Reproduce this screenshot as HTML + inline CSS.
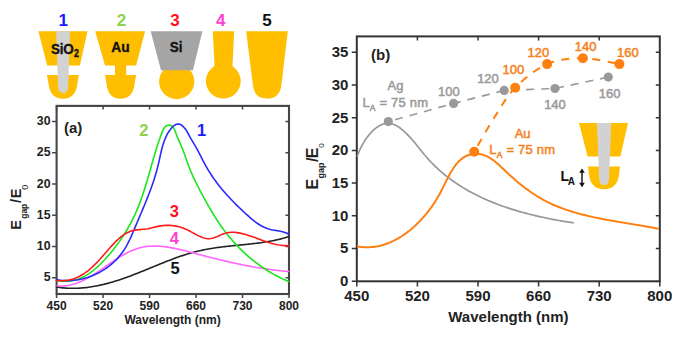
<!DOCTYPE html>
<html><head><meta charset="utf-8"><style>
html,body{margin:0;padding:0;background:#fff;}
svg{display:block;font-family:"Liberation Sans", sans-serif;}
</style></head><body>
<svg width="682" height="337" viewBox="0 0 682 337">
<rect width="682" height="337" fill="#fff"/>
<path d="M38.4,31.3 L87.5,31.3 L79.9,65.6 L47.2,65.6 Z" fill="#FFBE00"/>
<path d="M46.9,75 L78.9,75 L77.4,83 Q76.0,98.8 63,98.8 Q50.0,98.8 48.4,83 Z" fill="#FFBE00"/>
<path d="M56.2,31.3 L70.0,31.3 L68.2,87 Q67.5,93 63.1,93 Q58.7,93 58.0,87 Z" fill="#D2D2D2"/>
<path d="M95.2,31.3 L145.1,31.3 L136.1,65.6 L105.0,65.6 Z" fill="#FFBE00"/>
<rect x="115" y="64" width="11.2" height="12" fill="#FFBE00"/>
<path d="M105,75 L136.1,75 L134.7,83 Q133.3,98.7 120.5,98.7 Q107.7,98.7 106.4,83 Z" fill="#FFBE00"/>
<circle cx="176.7" cy="81.6" r="17.6" fill="#FFBE00"/>
<path d="M150.7,31.3 L202.4,31.3 L192.9,70.2 L161.0,70.2 Z" fill="#A5A5A5"/>
<path d="M212.8,31.3 L234.2,31.3 L232,75 L215,75 Z" fill="#FFBE00"/>
<circle cx="223.3" cy="81.2" r="17.4" fill="#FFBE00"/>
<path d="M246.2,31.3 L287.8,31.3 L281.4,85 Q279.8,98.6 267,98.6 Q254.2,98.6 252.9,85 Z" fill="#FFBE00"/>
<text x="63.2" y="26.0" font-size="17" font-weight="bold" fill="#1a1aff" color="#1a1aff" text-anchor="middle" >1</text>
<text x="121.6" y="26.0" font-size="17" font-weight="bold" fill="#8fd04e" color="#8fd04e" text-anchor="middle" >2</text>
<text x="175.0" y="26.0" font-size="17" font-weight="bold" fill="#ff1020" color="#ff1020" text-anchor="middle" >3</text>
<text x="220.8" y="26.0" font-size="17" font-weight="bold" fill="#ff40d0" color="#ff40d0" text-anchor="middle" >4</text>
<text x="267.0" y="26.0" font-size="17" font-weight="bold" fill="#111" color="#111" text-anchor="middle" >5</text>
<text transform="translate(50.9,53.6) scale(0.93,1.07)" font-size="14.5" font-weight="bold" fill="#111" stroke="#111" stroke-width="0.35" letter-spacing="-0.2">SiO<tspan font-size="9.5" dy="3.2" dx="0.4">2</tspan></text>
<text transform="translate(120.4,52.0) scale(0.95,1.07)" font-size="14.5" font-weight="bold" fill="#111" stroke="#111" stroke-width="0.35" text-anchor="middle">Au</text>
<text transform="translate(176.2,52.1) scale(0.95,1.07)" font-size="14.2" font-weight="bold" fill="#111" stroke="#111" stroke-width="0.35" text-anchor="middle">Si</text>
<rect x="56.6" y="105.9" width="232.4" height="188.1" fill="none" stroke="#454545" stroke-width="2.1"/>
<path d="M52.1,277.80 H56.6 M289.0,277.80 H285.5 M52.1,246.52 H56.6 M289.0,246.52 H285.5 M52.1,215.24 H56.6 M289.0,215.24 H285.5 M52.1,183.96 H56.6 M289.0,183.96 H285.5 M52.1,152.68 H56.6 M289.0,152.68 H285.5 M52.1,121.40 H56.6 M289.0,121.40 H285.5 M56.60,294.0 V298.0 M56.60,105.9 V109.4 M103.08,294.0 V298.0 M103.08,105.9 V109.4 M149.56,294.0 V298.0 M149.56,105.9 V109.4 M196.04,294.0 V298.0 M196.04,105.9 V109.4 M242.52,294.0 V298.0 M242.52,105.9 V109.4 M289.00,294.0 V298.0 M289.00,105.9 V109.4 " stroke="#454545" stroke-width="1.5" fill="none"/>
<text x="50.5" y="281.40000000000003" font-size="12.3" font-weight="bold" fill="#222" color="#222" text-anchor="end" >5</text>
<text x="50.5" y="250.12" font-size="12.3" font-weight="bold" fill="#222" color="#222" text-anchor="end" >10</text>
<text x="50.5" y="218.84" font-size="12.3" font-weight="bold" fill="#222" color="#222" text-anchor="end" >15</text>
<text x="50.5" y="187.56" font-size="12.3" font-weight="bold" fill="#222" color="#222" text-anchor="end" >20</text>
<text x="50.5" y="156.28" font-size="12.3" font-weight="bold" fill="#222" color="#222" text-anchor="end" >25</text>
<text x="50.5" y="125.0" font-size="12.3" font-weight="bold" fill="#222" color="#222" text-anchor="end" >30</text>
<text x="56.6" y="309.6" font-size="12" font-weight="bold" fill="#222" color="#222" text-anchor="middle" >450</text>
<text x="103.08" y="309.6" font-size="12" font-weight="bold" fill="#222" color="#222" text-anchor="middle" >520</text>
<text x="149.56" y="309.6" font-size="12" font-weight="bold" fill="#222" color="#222" text-anchor="middle" >590</text>
<text x="196.04" y="309.6" font-size="12" font-weight="bold" fill="#222" color="#222" text-anchor="middle" >660</text>
<text x="242.51999999999998" y="309.6" font-size="12" font-weight="bold" fill="#222" color="#222" text-anchor="middle" >730</text>
<text x="289.0" y="309.6" font-size="12" font-weight="bold" fill="#222" color="#222" text-anchor="middle" >800</text>
<text x="172.6" y="324.0" font-size="12" font-weight="bold" fill="#222" color="#222" text-anchor="middle" >Wavelength (nm)</text>
<text transform="translate(21.0,229.7) rotate(-90)" font-size="14.5" font-weight="bold" fill="#222">E</text>
<text transform="translate(27.3,218.8) rotate(-90)" font-size="8.5" font-weight="bold" fill="#222">gap</text>
<text transform="translate(21.0,203.0) rotate(-90)" font-size="14.5" font-weight="bold" fill="#222">/</text>
<text transform="translate(21.0,198.2) rotate(-90)" font-size="14.5" font-weight="bold" fill="#222">E</text>
<text transform="translate(28.0,189.7) rotate(-90)" font-size="9" font-weight="normal" fill="#222">0</text>
<text x="63.9" y="133.4" font-size="15" font-weight="bold" fill="#222" color="#222" text-anchor="start" >(a)</text>
<g fill="none" stroke-width="1.6" stroke-linejoin="round" stroke-linecap="round">
<path d="M56.62,287.07 L58.18,287.30 L59.74,287.50 L61.30,287.69 L62.84,287.84 L64.39,287.98 L65.93,288.09 L67.47,288.18 L69.00,288.24 L70.52,288.29 L72.05,288.31 L73.57,288.31 L75.08,288.29 L76.60,288.25 L78.10,288.19 L79.61,288.11 L81.11,288.01 L82.61,287.89 L84.10,287.76 L85.59,287.60 L87.07,287.43 L88.56,287.24 L90.04,287.03 L91.51,286.81 L92.99,286.57 L94.46,286.31 L95.93,286.04 L97.39,285.76 L98.85,285.46 L100.31,285.14 L101.77,284.81 L103.22,284.47 L104.67,284.12 L106.12,283.75 L107.56,283.37 L109.01,282.97 L110.45,282.57 L111.89,282.15 L113.32,281.73 L114.76,281.29 L116.19,280.84 L117.62,280.39 L119.05,279.92 L120.47,279.45 L121.90,278.96 L123.32,278.47 L124.74,277.97 L126.16,277.47 L127.58,276.95 L128.99,276.43 L130.41,275.91 L131.82,275.38 L133.23,274.84 L134.64,274.30 L136.05,273.75 L137.46,273.20 L138.87,272.64 L140.27,272.08 L141.68,271.52 L143.08,270.96 L144.49,270.39 L145.89,269.82 L147.29,269.25 L148.69,268.68 L150.10,268.10 L151.50,267.53 L152.90,266.96 L154.30,266.38 L155.70,265.81 L157.10,265.24 L158.49,264.67 L159.89,264.10 L161.29,263.54 L162.69,262.97 L164.09,262.41 L165.49,261.86 L166.89,261.31 L168.29,260.76 L169.70,260.22 L171.10,259.68 L172.50,259.15 L173.91,258.62 L175.32,258.10 L176.73,257.59 L178.14,257.09 L179.55,256.59 L180.97,256.11 L182.38,255.63 L183.80,255.16 L185.22,254.70 L186.65,254.25 L188.08,253.81 L189.51,253.39 L190.94,252.97 L192.38,252.57 L193.82,252.18 L195.26,251.80 L196.71,251.43 L198.16,251.08 L199.61,250.75 L201.07,250.42 L202.53,250.11 L204.00,249.81 L205.47,249.52 L206.94,249.25 L208.41,248.98 L209.89,248.72 L211.37,248.48 L212.85,248.24 L214.34,248.01 L215.82,247.80 L217.31,247.58 L218.80,247.38 L220.30,247.18 L221.79,247.00 L223.29,246.81 L224.78,246.63 L226.28,246.46 L227.78,246.30 L229.28,246.13 L230.79,245.97 L232.29,245.82 L233.79,245.66 L235.30,245.51 L236.80,245.37 L238.31,245.22 L239.81,245.07 L241.32,244.92 L242.82,244.77 L244.32,244.62 L245.83,244.47 L247.33,244.32 L248.84,244.16 L250.34,244.00 L251.84,243.83 L253.34,243.66 L254.84,243.49 L256.34,243.30 L257.83,243.11 L259.33,242.92 L260.82,242.72 L262.31,242.50 L263.80,242.28 L265.29,242.05 L266.78,241.81 L268.26,241.56 L269.74,241.30 L271.22,241.03 L272.70,240.74 L274.17,240.44 L275.64,240.13 L277.11,239.80 L278.57,239.46 L280.03,239.10 L281.49,238.73 L282.94,238.34 L284.39,237.93 L285.84,237.50 L287.28,237.06 L288.72,236.60" stroke="#222"/>
<path d="M57.07,285.77 L58.63,285.90 L60.17,285.96 L61.69,285.97 L63.21,285.93 L64.71,285.83 L66.19,285.68 L67.67,285.47 L69.13,285.23 L70.58,284.93 L72.02,284.59 L73.45,284.21 L74.87,283.78 L76.28,283.32 L77.68,282.82 L79.07,282.28 L80.46,281.70 L81.83,281.10 L83.20,280.46 L84.56,279.79 L85.91,279.10 L87.26,278.38 L88.60,277.64 L89.94,276.87 L91.27,276.08 L92.59,275.27 L93.91,274.45 L95.23,273.60 L96.54,272.75 L97.85,271.88 L99.16,271.00 L100.46,270.11 L101.76,269.22 L103.06,268.32 L104.36,267.41 L105.66,266.50 L106.96,265.60 L108.25,264.69 L109.55,263.78 L110.85,262.88 L112.15,261.99 L113.45,261.10 L114.76,260.23 L116.06,259.36 L117.37,258.51 L118.69,257.67 L120.00,256.85 L121.32,256.05 L122.65,255.27 L123.98,254.50 L125.31,253.77 L126.65,253.05 L128.00,252.36 L129.35,251.71 L130.71,251.08 L132.08,250.48 L133.45,249.91 L134.83,249.39 L136.22,248.89 L137.62,248.44 L139.03,248.03 L140.45,247.65 L141.88,247.32 L143.32,247.04 L144.77,246.79 L146.22,246.58 L147.69,246.41 L149.16,246.27 L150.64,246.18 L152.13,246.11 L153.63,246.08 L155.13,246.08 L156.63,246.11 L158.15,246.17 L159.67,246.26 L161.19,246.38 L162.72,246.52 L164.25,246.69 L165.79,246.88 L167.33,247.10 L168.88,247.33 L170.42,247.59 L171.97,247.86 L173.52,248.15 L175.08,248.46 L176.63,248.78 L178.19,249.12 L179.75,249.47 L181.30,249.83 L182.86,250.21 L184.42,250.59 L185.97,250.98 L187.53,251.37 L189.08,251.78 L190.63,252.18 L192.18,252.59 L193.73,253.01 L195.27,253.42 L196.81,253.83 L198.35,254.24 L199.88,254.65 L201.41,255.06 L202.93,255.46 L204.45,255.86 L205.97,256.26 L207.49,256.65 L209.00,257.05 L210.50,257.43 L212.01,257.82 L213.51,258.20 L215.01,258.57 L216.51,258.95 L218.00,259.31 L219.49,259.68 L220.98,260.04 L222.47,260.40 L223.96,260.75 L225.45,261.10 L226.93,261.45 L228.42,261.79 L229.90,262.13 L231.38,262.46 L232.86,262.79 L234.35,263.12 L235.83,263.44 L237.31,263.76 L238.79,264.07 L240.27,264.38 L241.75,264.68 L243.24,264.98 L244.72,265.27 L246.21,265.56 L247.69,265.85 L249.18,266.13 L250.67,266.40 L252.16,266.67 L253.65,266.94 L255.14,267.20 L256.64,267.45 L258.14,267.70 L259.64,267.95 L261.15,268.19 L262.65,268.42 L264.16,268.65 L265.68,268.87 L267.19,269.09 L268.71,269.30 L270.24,269.51 L271.76,269.71 L273.30,269.91 L274.83,270.10 L276.37,270.28 L277.92,270.46 L279.47,270.63 L281.02,270.80 L282.58,270.96 L284.15,271.11 L285.72,271.26 L287.29,271.40 L288.87,271.53" stroke="#ff66ff"/>
<path d="M56.66,280.52 L59.59,280.97 L62.44,281.23 L65.20,281.30 L67.89,281.19 L70.50,280.91 L73.04,280.48 L75.52,279.88 L77.92,279.14 L80.26,278.27 L82.54,277.26 L84.77,276.14 L86.93,274.90 L89.04,273.55 L91.11,272.11 L93.12,270.58 L95.09,268.98 L97.02,267.29 L98.91,265.55 L100.76,263.75 L102.58,261.90 L104.36,260.01 L106.12,258.09 L107.85,256.14 L109.55,254.17 L111.22,252.18 L112.86,250.16 L114.48,248.11 L116.06,246.05 L117.61,243.96 L119.14,241.85 L120.62,239.72 L122.08,237.57 L123.51,235.40 L124.90,233.21 L126.25,231.01 L127.57,228.78 L128.86,226.54 L130.11,224.28 L131.32,222.00 L132.49,219.71 L133.63,217.40 L134.73,215.08 L135.78,212.74 L136.81,210.39 L137.79,208.03 L138.74,205.66 L139.66,203.27 L140.56,200.88 L141.42,198.47 L142.26,196.05 L143.08,193.62 L143.87,191.19 L144.65,188.75 L145.41,186.29 L146.16,183.84 L146.90,181.37 L147.62,178.90 L148.34,176.43 L149.05,173.95 L149.76,171.46 L150.47,168.97 L151.18,166.48 L151.89,163.99 L152.60,161.50 L153.33,159.00 L154.06,156.50 L154.80,154.01 L155.56,151.51 L156.34,149.02 L157.13,146.53 L157.94,144.04 L158.77,141.55 L159.63,139.06 L160.51,136.58 L161.43,134.11 L162.37,131.64 L163.42,129.27 L164.75,127.22 L166.54,125.73 L168.92,125.05 L171.36,125.59 L173.23,127.42 L174.57,129.71 L175.57,132.17 L176.45,134.68 L177.38,137.13 L178.39,139.50 L179.44,141.83 L180.49,144.15 L181.51,146.49 L182.48,148.86 L183.40,151.27 L184.29,153.70 L185.16,156.15 L186.01,158.61 L186.87,161.06 L187.75,163.51 L188.65,165.94 L189.59,168.35 L190.56,170.74 L191.57,173.11 L192.61,175.46 L193.67,177.80 L194.77,180.12 L195.89,182.42 L197.03,184.72 L198.19,187.00 L199.37,189.27 L200.56,191.54 L201.78,193.80 L203.00,196.06 L204.24,198.31 L205.48,200.56 L206.73,202.81 L207.99,205.05 L209.27,207.29 L210.55,209.52 L211.86,211.75 L213.18,213.96 L214.53,216.16 L215.89,218.35 L217.29,220.52 L218.71,222.67 L220.17,224.80 L221.65,226.92 L223.16,229.01 L224.71,231.07 L226.28,233.12 L227.88,235.14 L229.51,237.13 L231.17,239.11 L232.86,241.05 L234.58,242.97 L236.33,244.86 L238.11,246.73 L239.91,248.57 L241.74,250.38 L243.61,252.16 L245.49,253.90 L247.41,255.62 L249.35,257.31 L251.32,258.96 L253.32,260.59 L255.34,262.17 L257.39,263.73 L259.47,265.25 L261.57,266.73 L263.70,268.18 L265.86,269.59 L268.04,270.96 L270.25,272.30 L272.48,273.59 L274.74,274.85 L277.02,276.07 L279.32,277.25 L281.66,278.38 L284.01,279.47 L286.39,280.52 L288.79,281.53" stroke="#1de61d"/>
<path d="M56.74,279.62 L59.15,280.02 L61.57,280.31 L63.99,280.50 L66.41,280.60 L68.83,280.60 L71.24,280.51 L73.64,280.32 L76.03,280.05 L78.40,279.69 L80.76,279.24 L83.10,278.71 L85.42,278.09 L87.72,277.40 L89.98,276.62 L92.22,275.77 L94.43,274.84 L96.60,273.83 L98.73,272.76 L100.83,271.61 L102.88,270.39 L104.89,269.11 L106.85,267.76 L108.76,266.35 L110.62,264.87 L112.42,263.33 L114.16,261.74 L115.85,260.08 L117.47,258.38 L119.03,256.61 L120.51,254.80 L121.93,252.94 L123.28,251.02 L124.56,249.07 L125.77,247.07 L126.93,245.03 L128.04,242.96 L129.10,240.86 L130.12,238.74 L131.11,236.59 L132.08,234.43 L133.02,232.25 L133.95,230.06 L134.87,227.87 L135.79,225.67 L136.71,223.48 L137.63,221.29 L138.56,219.10 L139.48,216.91 L140.41,214.72 L141.34,212.53 L142.27,210.34 L143.19,208.15 L144.10,205.96 L145.01,203.76 L145.91,201.56 L146.81,199.35 L147.69,197.13 L148.56,194.92 L149.41,192.69 L150.25,190.45 L151.08,188.21 L151.89,185.96 L152.68,183.69 L153.44,181.42 L154.19,179.13 L154.91,176.83 L155.61,174.52 L156.28,172.19 L156.93,169.85 L157.55,167.49 L158.13,165.11 L158.69,162.72 L159.23,160.32 L159.75,157.91 L160.28,155.51 L160.82,153.11 L161.38,150.73 L161.98,148.36 L162.62,146.02 L163.31,143.72 L164.07,141.46 L164.92,139.24 L165.84,137.07 L166.87,134.97 L168.01,132.93 L169.28,130.96 L170.67,129.06 L172.21,127.27 L173.87,125.71 L175.65,124.55 L177.53,123.95 L179.49,124.10 L181.49,125.08 L183.41,126.70 L185.11,128.68 L186.61,130.89 L187.96,133.23 L189.22,135.57 L190.44,137.83 L191.64,139.94 L192.83,141.95 L194.01,143.90 L195.17,145.84 L196.31,147.83 L197.43,149.87 L198.54,151.95 L199.64,154.07 L200.74,156.21 L201.84,158.37 L202.96,160.54 L204.09,162.70 L205.25,164.85 L206.43,166.97 L207.65,169.07 L208.90,171.14 L210.18,173.18 L211.49,175.20 L212.83,177.19 L214.20,179.15 L215.60,181.09 L217.03,183.01 L218.48,184.90 L219.96,186.77 L221.46,188.62 L222.99,190.45 L224.54,192.26 L226.11,194.05 L227.70,195.82 L229.32,197.57 L230.95,199.31 L232.61,201.03 L234.28,202.74 L235.97,204.43 L237.68,206.11 L239.40,207.78 L241.14,209.44 L242.89,211.08 L244.65,212.72 L246.43,214.34 L248.22,215.96 L250.03,217.55 L251.85,219.12 L253.71,220.64 L255.61,222.09 L257.54,223.48 L259.53,224.77 L261.57,225.96 L263.67,227.04 L265.85,227.98 L268.09,228.78 L270.43,229.42 L272.83,229.92 L275.27,230.34 L277.72,230.74 L280.15,231.17 L282.52,231.71 L284.81,232.40 L286.98,233.31 L289.00,234.50" stroke="#2a2aff"/>
<path d="M56.42,280.43 L58.26,280.60 L60.07,280.70 L61.83,280.73 L63.56,280.67 L65.25,280.55 L66.90,280.35 L68.52,280.09 L70.11,279.76 L71.66,279.37 L73.19,278.91 L74.68,278.40 L76.14,277.83 L77.58,277.21 L78.99,276.54 L80.37,275.81 L81.73,275.04 L83.06,274.22 L84.37,273.36 L85.67,272.46 L86.94,271.52 L88.19,270.54 L89.42,269.53 L90.64,268.49 L91.84,267.41 L93.02,266.31 L94.20,265.19 L95.35,264.04 L96.50,262.87 L97.64,261.69 L98.77,260.48 L99.89,259.27 L101.00,258.04 L102.11,256.80 L103.21,255.56 L104.30,254.31 L105.40,253.06 L106.49,251.81 L107.58,250.56 L108.68,249.31 L109.77,248.07 L110.87,246.84 L111.97,245.62 L113.08,244.41 L114.19,243.23 L115.31,242.06 L116.45,240.92 L117.59,239.81 L118.76,238.73 L119.94,237.70 L121.15,236.71 L122.38,235.76 L123.64,234.87 L124.92,234.03 L126.24,233.26 L127.58,232.55 L128.97,231.91 L130.39,231.35 L131.86,230.86 L133.36,230.46 L134.91,230.14 L136.51,229.90 L138.14,229.72 L139.79,229.58 L141.46,229.45 L143.14,229.32 L144.82,229.17 L146.49,228.96 L148.14,228.70 L149.78,228.35 L151.39,227.95 L152.99,227.53 L154.57,227.11 L156.14,226.73 L157.71,226.39 L159.27,226.09 L160.82,225.85 L162.37,225.65 L163.91,225.50 L165.45,225.40 L166.98,225.35 L168.51,225.36 L170.03,225.41 L171.55,225.51 L173.06,225.67 L174.58,225.88 L176.09,226.14 L177.59,226.46 L179.10,226.83 L180.61,227.26 L182.11,227.75 L183.61,228.29 L185.12,228.89 L186.62,229.55 L188.13,230.26 L189.63,231.03 L191.14,231.84 L192.65,232.67 L194.16,233.50 L195.67,234.33 L197.18,235.13 L198.69,235.89 L200.21,236.59 L201.73,237.22 L203.24,237.76 L204.76,238.19 L206.28,238.51 L207.80,238.68 L209.33,238.71 L210.85,238.57 L212.38,238.26 L213.90,237.82 L215.43,237.27 L216.97,236.65 L218.50,235.98 L220.03,235.29 L221.57,234.62 L223.11,233.99 L224.65,233.44 L226.19,232.99 L227.73,232.65 L229.27,232.43 L230.82,232.30 L232.36,232.26 L233.91,232.30 L235.46,232.42 L237.01,232.61 L238.55,232.86 L240.10,233.15 L241.65,233.49 L243.20,233.87 L244.75,234.28 L246.30,234.73 L247.84,235.20 L249.39,235.70 L250.94,236.21 L252.50,236.75 L254.05,237.30 L255.60,237.86 L257.16,238.43 L258.71,239.00 L260.27,239.56 L261.83,240.13 L263.39,240.69 L264.96,241.23 L266.53,241.76 L268.10,242.27 L269.67,242.76 L271.24,243.23 L272.82,243.66 L274.40,244.06 L275.99,244.43 L277.57,244.76 L279.16,245.04 L280.76,245.27 L282.36,245.45 L283.96,245.58 L285.57,245.65 L287.18,245.66 L288.80,245.61" stroke="#ff1a1a"/>
</g>
<text x="143.9" y="135.7" font-size="16.5" font-weight="bold" fill="#8fd04e" color="#8fd04e" text-anchor="middle" >2</text>
<text x="201.6" y="135.7" font-size="16.5" font-weight="bold" fill="#1a1aff" color="#1a1aff" text-anchor="middle" >1</text>
<text x="174.4" y="217.4" font-size="16.5" font-weight="bold" fill="#ff1020" color="#ff1020" text-anchor="middle" >3</text>
<text x="174.4" y="243.6" font-size="16.5" font-weight="bold" fill="#ff40d0" color="#ff40d0" text-anchor="middle" >4</text>
<text x="175.0" y="274.4" font-size="16.5" font-weight="bold" fill="#111" color="#111" text-anchor="middle" >5</text>
<rect x="356.8" y="36.4" width="302.99999999999994" height="244.9" fill="none" stroke="#333" stroke-width="2"/>
<path d="M351.8,281.30 H356.8 M351.8,248.58 H356.8 M659.8,248.58 H655.8 M351.8,215.85 H356.8 M659.8,215.85 H655.8 M351.8,183.12 H356.8 M659.8,183.12 H655.8 M351.8,150.40 H356.8 M659.8,150.40 H655.8 M351.8,117.68 H356.8 M659.8,117.68 H655.8 M351.8,84.95 H356.8 M659.8,84.95 H655.8 M351.8,52.23 H356.8 M659.8,52.23 H655.8 M356.80,281.3 V286.5 M417.40,281.3 V286.5 M417.40,36.4 V40.4 M478.00,281.3 V286.5 M478.00,36.4 V40.4 M538.60,281.3 V286.5 M538.60,36.4 V40.4 M599.20,281.3 V286.5 M599.20,36.4 V40.4 M659.80,281.3 V286.5 " stroke="#333" stroke-width="1.5" fill="none"/>
<text x="348.4" y="286.2" font-size="15" font-weight="bold" fill="#222" color="#222" text-anchor="end" >0</text>
<text x="348.4" y="253.47500000000002" font-size="15" font-weight="bold" fill="#222" color="#222" text-anchor="end" >5</text>
<text x="348.4" y="220.75000000000003" font-size="15" font-weight="bold" fill="#222" color="#222" text-anchor="end" >10</text>
<text x="348.4" y="188.025" font-size="15" font-weight="bold" fill="#222" color="#222" text-anchor="end" >15</text>
<text x="348.4" y="155.3" font-size="15" font-weight="bold" fill="#222" color="#222" text-anchor="end" >20</text>
<text x="348.4" y="122.57500000000002" font-size="15" font-weight="bold" fill="#222" color="#222" text-anchor="end" >25</text>
<text x="348.4" y="89.85000000000002" font-size="15" font-weight="bold" fill="#222" color="#222" text-anchor="end" >30</text>
<text x="348.4" y="57.12500000000002" font-size="15" font-weight="bold" fill="#222" color="#222" text-anchor="end" >35</text>
<text x="356.8" y="301.0" font-size="15" font-weight="bold" fill="#222" color="#222" text-anchor="middle" >450</text>
<text x="417.4" y="301.0" font-size="15" font-weight="bold" fill="#222" color="#222" text-anchor="middle" >520</text>
<text x="478.0" y="301.0" font-size="15" font-weight="bold" fill="#222" color="#222" text-anchor="middle" >590</text>
<text x="538.5999999999999" y="301.0" font-size="15" font-weight="bold" fill="#222" color="#222" text-anchor="middle" >660</text>
<text x="599.1999999999999" y="301.0" font-size="15" font-weight="bold" fill="#222" color="#222" text-anchor="middle" >730</text>
<text x="659.8" y="301.0" font-size="15" font-weight="bold" fill="#222" color="#222" text-anchor="middle" >800</text>
<text x="508.4" y="321.8" font-size="15" font-weight="bold" fill="#222" color="#222" text-anchor="middle" >Wavelength (nm)</text>
<text transform="translate(318.0,189.5) rotate(-90)" font-size="16" font-weight="bold" fill="#222">E</text>
<text transform="translate(323.6,178.6) rotate(-90)" font-size="9" font-weight="bold" fill="#222">gap</text>
<text transform="translate(317.5,162.1) rotate(-90)" font-size="16" font-weight="bold" fill="#222">/</text>
<text transform="translate(318.0,158.2) rotate(-90)" font-size="16" font-weight="bold" fill="#222">E</text>
<text transform="translate(323.8,147.8) rotate(-90)" font-size="8" font-weight="normal" fill="#222">0</text>
<text x="371.0" y="59.7" font-size="15" font-weight="bold" fill="#222" color="#222" text-anchor="start" >(b)</text>
<g fill="none" stroke-width="2" stroke-linejoin="round">
<path d="M357.23,156.83 L357.66,155.42 L358.15,153.97 L358.71,152.49 L359.33,150.97 L360.01,149.43 L360.75,147.87 L361.54,146.30 L362.39,144.73 L363.29,143.17 L364.24,141.61 L365.23,140.07 L366.27,138.56 L367.35,137.08 L368.46,135.63 L369.62,134.24 L370.80,132.89 L372.02,131.61 L373.27,130.38 L374.55,129.24 L375.85,128.17 L377.17,127.19 L378.51,126.30 L379.87,125.52 L381.24,124.84 L382.62,124.27 L384.02,123.83 L385.42,123.51 L386.83,123.33 L388.24,123.29 L389.65,123.40 L391.06,123.65 L392.47,124.02 L393.87,124.52 L395.26,125.13 L396.65,125.85 L398.03,126.66 L399.39,127.56 L400.74,128.54 L402.07,129.59 L403.39,130.70 L404.69,131.86 L405.97,133.07 L407.22,134.31 L408.45,135.58 L409.65,136.87 L410.83,138.17 L411.99,139.49 L413.13,140.81 L414.25,142.14 L415.36,143.48 L416.46,144.83 L417.54,146.18 L418.62,147.52 L419.69,148.87 L420.77,150.21 L421.84,151.54 L422.91,152.87 L423.99,154.19 L425.08,155.49 L426.18,156.78 L427.29,158.06 L428.42,159.32 L429.55,160.56 L430.70,161.79 L431.86,163.00 L433.04,164.19 L434.22,165.37 L435.42,166.54 L436.63,167.69 L437.84,168.82 L439.08,169.94 L440.32,171.04 L441.57,172.13 L442.83,173.20 L444.11,174.26 L445.39,175.31 L446.69,176.34 L448.00,177.35 L449.31,178.35 L450.64,179.34 L451.97,180.31 L453.32,181.27 L454.67,182.22 L456.04,183.15 L457.41,184.07 L458.79,184.98 L460.18,185.87 L461.58,186.75 L462.99,187.61 L464.40,188.47 L465.83,189.31 L467.26,190.14 L468.70,190.95 L470.15,191.75 L471.61,192.54 L473.07,193.32 L474.54,194.09 L476.02,194.84 L477.51,195.59 L479.00,196.32 L480.50,197.04 L482.00,197.74 L483.51,198.44 L485.03,199.12 L486.56,199.80 L488.09,200.46 L489.62,201.11 L491.17,201.75 L492.71,202.39 L494.27,203.01 L495.82,203.62 L497.39,204.21 L498.95,204.80 L500.53,205.38 L502.10,205.95 L503.68,206.51 L505.27,207.06 L506.86,207.60 L508.46,208.13 L510.05,208.65 L511.65,209.16 L513.26,209.67 L514.87,210.16 L516.48,210.65 L518.10,211.12 L519.71,211.59 L521.33,212.05 L522.96,212.50 L524.58,212.94 L526.21,213.38 L527.84,213.80 L529.47,214.22 L531.11,214.63 L532.74,215.03 L534.38,215.43 L536.02,215.81 L537.66,216.19 L539.30,216.57 L540.94,216.93 L542.59,217.29 L544.23,217.64 L545.87,217.99 L547.52,218.33 L549.16,218.66 L550.81,218.98 L552.45,219.30 L554.10,219.62 L555.74,219.92 L557.38,220.22 L559.03,220.52 L560.67,220.81 L562.31,221.09 L563.95,221.37 L565.59,221.64 L567.22,221.91 L568.86,222.17 L570.49,222.43 L572.12,222.68 L573.75,222.93" stroke="#999999" stroke-width="1.7"/>
<path d="M357.02,246.24 L359.40,246.66 L361.76,246.96 L364.11,247.15 L366.44,247.24 L368.75,247.23 L371.04,247.12 L373.32,246.91 L375.58,246.61 L377.81,246.21 L380.03,245.73 L382.22,245.17 L384.39,244.52 L386.54,243.80 L388.66,242.99 L390.76,242.12 L392.84,241.17 L394.89,240.16 L396.91,239.08 L398.90,237.94 L400.86,236.74 L402.80,235.49 L404.71,234.18 L406.58,232.82 L408.42,231.42 L410.24,229.97 L412.01,228.48 L413.76,226.95 L415.47,225.38 L417.14,223.79 L418.78,222.16 L420.39,220.50 L421.95,218.82 L423.48,217.12 L424.97,215.40 L426.42,213.67 L427.82,211.92 L429.19,210.16 L430.53,208.37 L431.83,206.57 L433.10,204.73 L434.34,202.87 L435.55,200.96 L436.75,199.02 L437.92,197.03 L439.07,195.00 L440.20,192.91 L441.32,190.77 L442.43,188.59 L443.54,186.37 L444.65,184.13 L445.77,181.88 L446.90,179.64 L448.04,177.42 L449.21,175.23 L450.40,173.08 L451.63,170.98 L452.90,168.95 L454.21,167.00 L455.56,165.15 L456.97,163.39 L458.44,161.76 L459.98,160.25 L461.58,158.89 L463.25,157.68 L465.01,156.64 L466.83,155.76 L468.71,155.04 L470.63,154.50 L472.60,154.12 L474.60,153.91 L476.62,153.87 L478.65,153.99 L480.69,154.29 L482.71,154.76 L484.73,155.39 L486.71,156.20 L488.67,157.19 L490.59,158.33 L492.47,159.61 L494.33,161.01 L496.16,162.51 L497.97,164.09 L499.77,165.73 L501.55,167.40 L503.33,169.09 L505.10,170.78 L506.87,172.44 L508.65,174.09 L510.42,175.70 L512.20,177.30 L513.98,178.86 L515.76,180.40 L517.55,181.92 L519.35,183.41 L521.16,184.87 L522.97,186.30 L524.79,187.70 L526.63,189.08 L528.47,190.42 L530.33,191.74 L532.20,193.02 L534.08,194.27 L535.98,195.49 L537.89,196.68 L539.82,197.83 L541.77,198.96 L543.74,200.04 L545.73,201.10 L547.74,202.12 L549.77,203.10 L551.81,204.05 L553.88,204.97 L555.96,205.86 L558.06,206.72 L560.17,207.55 L562.30,208.36 L564.45,209.13 L566.61,209.88 L568.78,210.60 L570.96,211.30 L573.16,211.98 L575.37,212.63 L577.59,213.26 L579.81,213.87 L582.05,214.46 L584.30,215.03 L586.55,215.58 L588.82,216.11 L591.09,216.63 L593.36,217.13 L595.64,217.62 L597.92,218.09 L600.21,218.55 L602.51,219.00 L604.80,219.43 L607.10,219.86 L609.39,220.28 L611.69,220.69 L613.99,221.09 L616.29,221.48 L618.58,221.87 L620.88,222.25 L623.17,222.63 L625.46,223.01 L627.74,223.38 L630.02,223.75 L632.29,224.13 L634.56,224.50 L636.82,224.87 L639.07,225.25 L641.32,225.63 L643.56,226.01 L645.78,226.40 L648.00,226.79 L650.20,227.20 L652.40,227.60 L654.58,228.02 L656.75,228.45 L658.91,228.88" stroke="#FF8010"/>
<path d="M388.3,121.6 L453.6,103.4 L504.2,90.4 L555,88.5 L608.3,77.1" stroke="#999999" stroke-width="1.6" stroke-dasharray="8,7" stroke-dashoffset="-7"/>
<path d="M474.20,151.80 C477.50,146.17 487.17,128.67 494.00,118.00 C500.83,107.33 506.35,96.78 515.20,87.80 C524.05,78.82 535.82,69.03 547.10,64.10 C558.38,59.17 570.85,58.20 582.90,58.20 C594.95,58.20 613.32,63.12 619.40,64.10" stroke="#FF8010" stroke-dasharray="8,7.5" stroke-dashoffset="-7"/>
</g>
<circle cx="388.3" cy="121.6" r="4.6" fill="#999999"/>
<circle cx="453.6" cy="103.4" r="4.6" fill="#999999"/>
<circle cx="504.2" cy="90.4" r="4.6" fill="#999999"/>
<circle cx="555" cy="88.5" r="4.6" fill="#999999"/>
<circle cx="608.3" cy="77.1" r="4.6" fill="#999999"/>
<circle cx="474.2" cy="151.8" r="5.0" fill="#FF8010"/>
<circle cx="515.2" cy="87.8" r="5.0" fill="#FF8010"/>
<circle cx="547.1" cy="64.1" r="5.0" fill="#FF8010"/>
<circle cx="582.9" cy="58.2" r="5.0" fill="#FF8010"/>
<circle cx="619.4" cy="64.1" r="5.0" fill="#FF8010"/>
<text x="395.5" y="89.5" font-size="13" font-weight="normal" fill="#9a9a9a" color="#9a9a9a" text-anchor="middle" stroke="currentColor" stroke-width="0.5">Ag</text>
<text x="362.4" y="107.4" font-size="13" font-weight="normal" fill="#9a9a9a" color="#9a9a9a" text-anchor="start" letter-spacing="0.2" stroke="currentColor" stroke-width="0.5">L<tspan font-size="8.5" dy="4">A</tspan><tspan dy="-4"> = 75 nm</tspan></text>
<text x="448.8" y="95.6" font-size="13" font-weight="normal" fill="#9a9a9a" color="#9a9a9a" text-anchor="middle" stroke="currentColor" stroke-width="0.5">100</text>
<text x="488.0" y="83.2" font-size="13" font-weight="normal" fill="#9a9a9a" color="#9a9a9a" text-anchor="middle" stroke="currentColor" stroke-width="0.5">120</text>
<text x="555.0" y="108.7" font-size="13" font-weight="normal" fill="#9a9a9a" color="#9a9a9a" text-anchor="middle" stroke="currentColor" stroke-width="0.5">140</text>
<text x="609.6" y="98.3" font-size="13" font-weight="normal" fill="#9a9a9a" color="#9a9a9a" text-anchor="middle" stroke="currentColor" stroke-width="0.5">160</text>
<text x="522.6" y="137.6" font-size="13" font-weight="normal" fill="#F58220" color="#F58220" text-anchor="middle" stroke="currentColor" stroke-width="0.5">Au</text>
<text x="489.3" y="153.8" font-size="13" font-weight="normal" fill="#F58220" color="#F58220" text-anchor="start" letter-spacing="0.2" stroke="currentColor" stroke-width="0.5">L<tspan font-size="8.5" dy="4">A</tspan><tspan dy="-4"> = 75 nm</tspan></text>
<text x="513.4" y="73.9" font-size="13" font-weight="normal" fill="#F58220" color="#F58220" text-anchor="middle" stroke="currentColor" stroke-width="0.5">100</text>
<text x="538.3" y="57.4" font-size="13" font-weight="normal" fill="#F58220" color="#F58220" text-anchor="middle" stroke="currentColor" stroke-width="0.5">120</text>
<text x="585.7" y="50.9" font-size="13" font-weight="normal" fill="#F58220" color="#F58220" text-anchor="middle" stroke="currentColor" stroke-width="0.5">140</text>
<text x="627.9" y="56.5" font-size="13" font-weight="normal" fill="#F58220" color="#F58220" text-anchor="middle" stroke="currentColor" stroke-width="0.5">160</text>
<path d="M579.0,123.1 L628,123.1 L620.4,156.6 L587.6,156.6 Z" fill="#FFBE00"/>
<path d="M588,166.4 L620,166.4 L619.2,173 Q618,189.2 604,189.2 Q590,189.2 588.8,173 Z" fill="#FFBE00"/>
<path d="M596.9,123.1 L611.2,123.1 L609,179 Q608.6,185.2 604.1,185.2 Q599.6,185.2 599.2,179 Z" fill="#D2D2D2"/>
<text x="560.4" y="181.0" font-size="14" font-weight="bold" fill="#111" color="#111" text-anchor="start" >L<tspan font-size="10" dy="4.2" dx="-1.2">A</tspan></text>
<path d="M582,171 V184.5" stroke="#333" stroke-width="1.7"/>
<path d="M579.2,172.8 L582,168.4 L584.8,172.8 Z M579.2,182.8 L582,187.2 L584.8,182.8 Z" fill="#111"/>
</svg>
</body></html>
